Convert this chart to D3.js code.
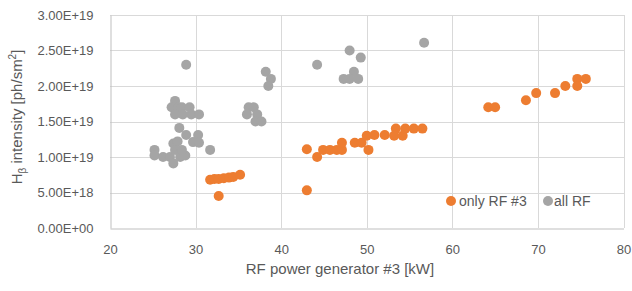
<!DOCTYPE html>
<html>
<head>
<meta charset="utf-8">
<script src="https://cdn.jsdelivr.net/npm/d3@7"></script>
<style>
  html, body { margin: 0; padding: 0; background: #fff; }
  svg { display: block; }
  text { font-family: "Liberation Sans", Arial, sans-serif; fill: #595959; }
</style>
</head>
<body>
<svg id="chart" width="632" height="291"></svg>
<script>
// ---- data ----
const xTicks = [20, 30, 40, 50, 60, 70, 80];
const yTicks = [0, 5e18, 1e19, 1.5e19, 2e19, 2.5e19, 3e19];

const seriesNames = ["only RF #3", "all RF"];
const seriesColors = ["#ED7D31", "#A5A5A5"];

const onlyRF3X = [31.7, 32.2, 32.7, 33.3, 33.9, 34.4, 35.2, 32.7,
  43.0, 43.0, 44.2, 44.9, 45.7, 46.5, 47.1, 47.1, 48.6, 49.4, 50.2, 50.0,
  50.9, 52.1, 53.4, 53.2, 54.2, 54.5, 55.5, 56.5,
  64.2, 65.0, 68.6, 69.8, 72.0, 73.2, 74.6, 74.6, 75.6];
const onlyRF3Y = [6.8e18, 6.9e18, 6.9e18, 7.0e18, 7.1e18, 7.2e18, 7.5e18, 4.5e18,
  1.11e19, 5.3e18, 1.00e19, 1.10e19, 1.10e19, 1.10e19, 1.10e19, 1.20e19, 1.20e19, 1.20e19, 1.10e19, 1.30e19,
  1.31e19, 1.31e19, 1.40e19, 1.30e19, 1.30e19, 1.40e19, 1.40e19, 1.40e19,
  1.70e19, 1.70e19, 1.80e19, 1.90e19, 1.90e19, 2.00e19, 2.10e19, 2.00e19, 2.10e19];

const allRFX = [28.9, 27.6, 27.2, 28.0, 28.4, 29.3, 27.6, 28.5, 29.5, 30.4,
  28.1, 28.9, 29.7, 30.3, 30.4, 31.7, 25.2, 25.2, 26.2, 27.0, 27.4, 27.9, 27.6, 27.4, 28.2, 28.8, 28.4,
  38.2, 38.8, 38.5, 44.2, 36.2, 36.8, 36.0, 37.2, 37.0, 37.7,
  48.0, 49.3, 48.5, 47.3, 48.0, 49.0, 56.7];
const allRFY = [2.30e19, 1.79e19, 1.70e19, 1.70e19, 1.70e19, 1.70e19, 1.60e19, 1.60e19, 1.60e19, 1.60e19,
  1.41e19, 1.31e19, 1.21e19, 1.31e19, 1.20e19, 1.10e19, 1.10e19, 1.02e19, 1.00e19, 1.00e19, 1.19e19, 1.22e19, 1.10e19, 0.91e19, 1.00e19, 1.02e19, 1.10e19,
  2.20e19, 2.10e19, 2.00e19, 2.30e19, 1.70e19, 1.70e19, 1.60e19, 1.60e19, 1.50e19, 1.50e19,
  2.50e19, 2.40e19, 2.20e19, 2.10e19, 2.10e19, 2.10e19, 2.61e19];

// ---- layout ----
const svg = d3.select("#chart");
const pLeft = 110, pRight = 623.5, pTop = 15, pBottom = 228;

const x = d3.scaleLinear().domain([20, 80]).range([pLeft, pRight]);
const y = d3.scaleLinear().domain([0, 3e19]).range([pBottom, pTop]);

function fmtE(d) {
  const s = d.toExponential(2).split("e");
  const sign = s[1][0] === "-" ? "-" : "+";
  const ex = String(Math.abs(+s[1])).padStart(2, "0");
  return s[0] + "E" + sign + ex;
}

// gridlines
svg.append("g").selectAll("line").data(yTicks.filter(d => d > 0)).join("line")
  .attr("x1", pLeft).attr("x2", Math.round(pRight) + 0.5)
  .attr("y1", d => Math.round(y(d)) + 0.5).attr("y2", d => Math.round(y(d)) + 0.5)
  .attr("stroke", "#d9d9d9").attr("stroke-width", 1);
svg.append("g").selectAll("line").data(xTicks.filter(d => d > 20)).join("line")
  .attr("y1", pTop).attr("y2", pBottom)
  .attr("x1", d => Math.round(x(d)) + 0.5).attr("x2", d => Math.round(x(d)) + 0.5)
  .attr("stroke", "#d9d9d9").attr("stroke-width", 1);

// axes
const xAxis = d3.axisBottom(x).tickValues(xTicks).tickSize(0).tickPadding(16);
const gx = svg.append("g").attr("transform", `translate(0,${Math.round(pBottom) + 0.5})`).call(xAxis);
gx.select(".domain").attr("stroke", "#bfbfbf");
gx.selectAll("text").style("font-size", "13px").attr("fill", "#595959")
  .style("font-family", "Liberation Sans, Arial, sans-serif");

const yAxis = d3.axisLeft(y).tickValues(yTicks).tickSize(0).tickPadding(17).tickFormat(fmtE);
const gy = svg.append("g").attr("transform", `translate(${pLeft + 0.5},0)`).call(yAxis);
gy.select(".domain").attr("stroke", "#bfbfbf");
gy.selectAll("text").style("font-size", "13px").attr("fill", "#595959")
  .style("font-family", "Liberation Sans, Arial, sans-serif");

// axis titles
svg.append("text").attr("x", 340).attr("y", 274).attr("text-anchor", "middle")
  .style("font-size", "15px").text("RF power generator #3 [kW]");

const yt = svg.append("text").attr("transform", "translate(22,117) rotate(-90)")
  .attr("text-anchor", "middle").style("font-size", "15px");
yt.append("tspan").text("H");
yt.append("tspan").attr("dy", 4).style("font-size", "10px").text("β");
yt.append("tspan").attr("dy", -4).text(" intensity [ph/sm");
yt.append("tspan").attr("dy", -6).style("font-size", "10px").text("2");
yt.append("tspan").attr("dy", 6).text("]");

// points
const r = 5;
const s1 = onlyRF3X.map((v, i) => ({ x: v, y: onlyRF3Y[i] }));
const s2 = allRFX.map((v, i) => ({ x: v, y: allRFY[i] }));
svg.append("g").selectAll("circle").data(s1).join("circle")
  .attr("cx", d => x(d.x)).attr("cy", d => y(d.y)).attr("r", r).attr("fill", seriesColors[0]);
svg.append("g").selectAll("circle").data(s2).join("circle")
  .attr("cx", d => x(d.x)).attr("cy", d => y(d.y)).attr("r", r).attr("fill", seriesColors[1]);

// legend
const legendPos = [451, 548];
const legendGap = [8, 6];
const lg = svg.append("g");
seriesNames.forEach((n, i) => {
  lg.append("circle").attr("cx", legendPos[i]).attr("cy", 201).attr("r", 5).attr("fill", seriesColors[i]);
  lg.append("text").attr("x", legendPos[i] + legendGap[i]).attr("y", 206).style("font-size", "14px").text(n);
});
</script>
</body>
</html>
